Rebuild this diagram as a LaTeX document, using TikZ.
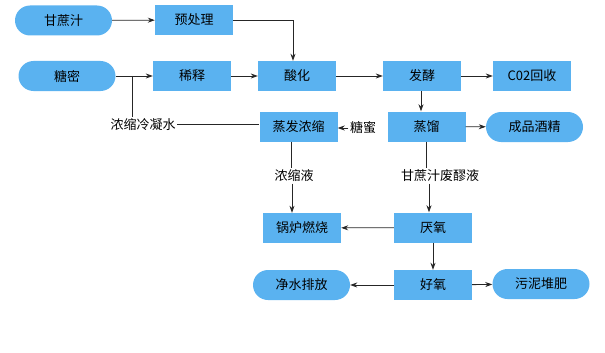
\documentclass[tikz,border=0pt]{standalone}
\usepackage{fontspec}
\newfontfamily\cjk{Noto Sans CJK SC}
\usetikzlibrary{arrows.meta}
\definecolor{boxblue}{RGB}{90,178,240}
\begin{document}
\begin{tikzpicture}[x=1pt,y=-1pt,
  font=\cjk\fontsize{13}{15}\selectfont,
  box/.style={fill=boxblue, minimum width=78pt, minimum height=30pt, inner sep=0pt},
  pill/.style={fill=boxblue, rounded corners=15pt, minimum width=97pt, minimum height=30pt, inner sep=0pt},
  lbl/.style={inner sep=1.5pt},
  conn/.style={draw=black!85, line width=0.8pt},
  arr/.style={conn, -{Stealth[length=7pt,width=5pt]}}]
\useasboundingbox (0,0) rectangle (605,353);

% nodes
\node[pill] (zhi) at (63.5,20.5) {甘蔗汁};
\node[box] (yu) at (194,20) {预处理};
\node[pill] (tm) at (67,76) {糖密};
\node[box] (xs) at (192,76) {稀释};
\node[box] (sh) at (297,76) {酸化};
\node[box] (fj) at (422,76) {发酵};
\node[box] (co) at (532,76) {C02回收};
\node[box] (zf) at (298.5,126.5) {蒸发浓缩};
\node[box] (zl) at (426.5,126.5) {蒸馏};
\node[pill] (cp) at (534.5,127) {成品酒精};
\node[box] (gl) at (302,228) {锅炉燃烧};
\node[box] (yy) at (433,227.5) {厌氧};
\node[box] (hy) at (433,285) {好氧};
\node[pill] (js) at (301.5,285) {净水排放};
\node[pill] (wn) at (541,284) {污泥堆肥};

% labels
\node[lbl] (nslw) at (143,124.5) {浓缩冷凝水};
\node[lbl] (tang) at (363,128) {糖蜜};
\node[lbl] (nsy) at (294,176) {浓缩液};
\node[lbl] (fl) at (440,176) {甘蔗汁废醪液};

% connectors
\draw[arr] (zhi) -- (yu);
\coordinate (c1) at (293,20);
\draw[arr] (yu.east) -- (c1) -- (c1 |- sh.north);
\draw[arr] (tm) -- (xs);
\coordinate (br) at (132,76);
\draw[conn] (br) -- (br |- nslw.north);
\draw[conn] (nslw.east) -- (nslw.east -| zf.west);
\draw[arr] (xs) -- (sh);
\draw[arr] (sh) -- (fj);
\draw[arr] (fj) -- (co);
\draw[arr] ([xshift=-1pt]fj.south) -- ([xshift=-1pt]fj.south |- zl.north);
\draw[arr] (tang.west) -- (tang.west -| zf.east);
\draw[arr] (zl) -- (cp);
\draw[conn] ([xshift=-7.5pt]zf.south) -- ([xshift=-7.5pt]zf.south |- nsy.north);
\draw[arr] ([xshift=-2pt]nsy.south) -- ([xshift=-2pt]nsy.south |- gl.north);
\draw[conn] (zl.south) -- (zl.south |- fl.north);
\draw[arr] ([xshift=-11pt]fl.south) -- ([xshift=-11pt]fl.south |- yy.north);
\draw[arr] (yy) -- (gl);
\draw[arr] (yy) -- (hy);
\draw[arr] (hy) -- (js);
\draw[arr] (hy) -- (wn);
\end{tikzpicture}
\end{document}
